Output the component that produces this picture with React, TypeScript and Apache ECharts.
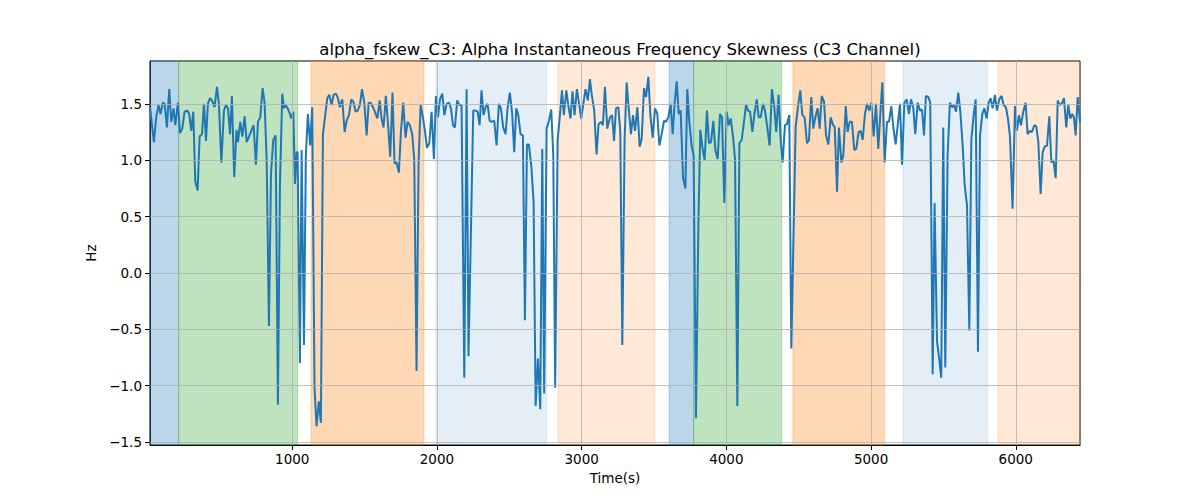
import React, { useEffect, useRef } from 'react';
import * as echarts from 'echarts';

// sample times (s) and skewness values (Hz)
const times = [
  17, 44, 60, 76, 90, 106, 118, 134, 150, 164, 180, 192, 210, 224, 240, 256, 275, 288, 302, 316,
  330, 346, 360, 376, 390, 404, 417, 431, 445, 463, 480, 493, 510, 528, 542, 556, 570, 583, 599, 615,
  625, 641, 655, 671, 685, 701, 717, 733, 749, 763, 779, 795, 809, 823, 839, 853, 869, 885, 901, 915,
  931, 943, 954, 968, 982, 993, 1007, 1019, 1030, 1037,
  1053, 1065, 1081, 1094, 1108, 1124, 1138, 1154, 1168, 1184, 1198, 1212, 1228, 1242, 1256, 1272, 1286, 1302, 1316, 1329,
  1346, 1362, 1376, 1392, 1408, 1422, 1438, 1452, 1468, 1482, 1498, 1514, 1528, 1541, 1558, 1571, 1588, 1604, 1617, 1631,
  1647, 1664, 1677, 1693, 1707, 1721, 1737, 1751, 1767, 1783, 1797, 1813, 1829, 1843, 1859, 1873, 1887, 1903, 1917, 1931,
  1947, 1963, 1979, 1993, 2007, 2021, 2037, 2051, 2067, 2083, 2097, 2111,
  2124, 2140, 2154, 2170, 2189, 2205, 2218, 2251, 2267, 2281, 2295, 2308, 2322, 2336, 2350, 2364, 2377, 2396, 2412, 2428,
  2442, 2458, 2474, 2488, 2504, 2520, 2534, 2548, 2562, 2578, 2594, 2608, 2622, 2635, 2652, 2668, 2682, 2698, 2714, 2728,
  2741, 2758, 2774, 2790, 2804, 2817, 2834, 2850, 2864, 2877, 2894, 2907, 2923, 2937, 2951, 2967, 2981, 2997, 3013, 3027,
  3043, 3057, 3071, 3087, 3103, 3117, 3133, 3147, 3161, 3177,
  3196, 3210, 3224, 3237, 3254, 3267, 3281, 3297, 3311, 3325, 3341, 3355, 3369, 3385, 3401, 3415, 3431, 3445, 3461, 3475,
  3491, 3507, 3523, 3537, 3553, 3569, 3583, 3599, 3615, 3629, 3643, 3657, 3671, 3684, 3701, 3717, 3730, 3744, 3760, 3774,
  3790, 3807, 3820, 3836, 3850, 3866, 3880, 3894, 3910, 3924, 3940, 3956, 3970, 3986, 4002, 4016, 4030, 4046, 4060, 4076,
  4090, 4106, 4120, 4136, 4150, 4164, 4180, 4194, 4210, 4224, 4237, 4253,
  4267, 4283, 4299, 4315, 4332, 4345, 4361, 4375, 4389, 4405, 4419, 4435, 4449, 4479, 4495, 4511, 4525, 4541, 4557, 4571,
  4587, 4601, 4615, 4631, 4645, 4659, 4675, 4689, 4705, 4721, 4735, 4749, 4765, 4778, 4795, 4808, 4825, 4838, 4852, 4868,
  4884, 4898, 4914, 4928, 4942, 4958, 4972, 4988, 5002, 5018, 5034, 5050, 5064, 5078, 5094, 5110, 5124, 5140, 5154, 5170,
  5184, 5200, 5214, 5230, 5246, 5262, 5276, 5292, 5306, 5322,
  5338, 5352, 5366, 5379, 5396, 5409, 5426, 5439, 5456, 5469, 5485, 5499, 5513, 5529, 5545, 5559, 5573, 5587, 5603, 5617,
  5633, 5647, 5663, 5679, 5693, 5709, 5723, 5739, 5753, 5769, 5783, 5799, 5813, 5826, 5840, 5856, 5870, 5886, 5902, 5916,
  5932, 5946, 5960, 5978, 5995, 6008, 6022, 6036, 6052, 6068, 6082, 6098, 6112, 6128, 6142, 6156, 6172, 6186, 6200, 6216,
  6232, 6246, 6260, 6276, 6290, 6303, 6317, 6333, 6349, 6363, 6377, 6391, 6402, 6414, 6428, 6444,
];

const values = [
  1.47, 1.16, 1.38, 1.49, 1.41, 1.51, 1.5, 1.29, 1.63, 1.34, 1.46, 1.31, 1.51, 1.24, 1.28, 1.43, 1.44, 1.41, 1.26, 1.43,
  0.81, 0.73, 1.21, 1.23, 1.5, 1.17, 1.5, 1.55, 1.53, 1.47, 1.65, 1.5, 0.98, 1.44, 1.49, 1.46, 1.23, 1.57, 0.85, 1.27,
  1.16, 1.34, 1.21, 1.39, 1.16, 1.21, 1.26, 1.31, 0.96, 1.34, 1.38, 1.64, 1.51, 1.01, -0.47, 0.88, 1.18, 1.22, -1.17, 0.78,
  1.59, 1.46, 1.49, 1.46, 1.42, 1.37, 1.43, 0.79, 1.07, 1.07,
  -0.8, 1.09, -0.64, 1.04, 1.41, 1.13, 1.47, -1.02, -1.36, -1.14, -1.33, 1.23, 1.4, 1.55, 1.58, 1.49, 1.58, 1.59, 1.55, 1.47,
  1.54, 1.25, 1.35, 1.4, 1.54, 1.52, 1.43, 1.44, 1.49, 1.63, 1.51, 1.22, 1.51, 1.51, 1.47, 1.43, 1.37, 1.53, 1.37, 1.29,
  1.57, 1.28, 1.03, 1.6, 0.97, 0.98, 0.89, 1.25, 1.51, 1.2, 1.34, 1.31, 1.23, 1.01, -0.87, 0.98, 1.49, 1.38, 1.26, 1.11,
  1.15, 1.43, 1.01, 1.57, 1.38, 1.54, 1.59, 1.4, 1.5, 1.51, 1.46, 1.31,
  1.29, 1.53, 1.49, 1.49, -0.93, 1.63, -0.74, 1.44, 1.44, 1.43, 1.31, 1.62, 1.4, 1.47, 1.5, 1.35, 1.34, 1.35, 1.13, 1.5,
  1.46, 1.29, 1.23, 1.46, 1.6, 1.41, 1.07, 1.46, 1.4, 1.23, 1.22, -0.42, 1.14, 1.14, 0.95, 0.63, -1.18, -0.76, -1.21, 1.1,
  -1.07, 1.28, 1.35, 1.45, 1.04, -1.02, 1.18, 1.4, 1.62, 1.4, 1.62, 1.49, 1.37, 1.61, 1.4, 1.63, 1.51, 1.37, 1.51, 1.63,
  1.53, 1.72, 1.57, 1.44, 1.05, 1.32, 1.34, 1.31, 1.65, 1.28,
  1.38, 1.4, 1.17, 1.46, 1.47, 1.25, -0.64, 1.19, 1.69, 1.46, 1.23, 1.4, 1.26, 1.47, 1.12, 1.19, 1.64, 1.56, 1.74, 1.4,
  1.2, 1.46, 1.41, 1.13, 1.23, 1.35, 1.34, 1.38, 1.5, 1.23, 1.51, 1.7, 1.41, 1.44, 0.84, 0.75, 1.63, 1.34, 1.13, 1.04,
  -1.29, 0.45, 1.27, 1.1, 1.0, 1.44, 1.15, 1.16, 1.35, 1.09, 1.01, 1.41, 1.38, 0.62, 1.43, 1.31, 1.37, 1.21, 1.01, -1.18,
  1.15, 1.18, 1.32, 1.49, 1.44, 1.43, 1.25, 1.41, 1.54, 1.38, 1.38, 1.5,
  1.44, 1.29, 1.13, 1.63, 1.46, 1.25, 1.58, 1.19, 0.98, 1.31, 1.32, 1.4, -0.67, 1.3, 1.47, 1.62, 1.4, 1.38, 1.15, 1.18,
  1.56, 1.28, 1.38, 1.46, 1.28, 1.57, 1.52, 1.22, 1.14, 1.38, 1.32, 1.29, 0.72, 1.29, 0.98, 1.04, 1.48, 1.25, 1.34, 1.34,
  1.09, 1.1, 1.25, 1.26, 1.18, 1.41, 1.5, 1.44, 1.51, 1.21, 1.5, 1.1, 1.41, 1.69, 0.98, 1.34, 1.34, 1.48, 1.29, 1.14,
  1.31, 1.5, 0.96, 1.51, 1.54, 1.41, 1.54, 1.46, 1.23, 1.51,
  1.44, 1.45, 1.22, 1.57, 1.56, 1.51, -0.9, 0.62, -0.61, -0.74, -0.93, 1.29, -0.84, 1.04, 1.51, 1.47, 1.49, 1.43, 1.6, 1.43,
  1.13, 0.78, 0.6, -0.51, 1.18, 1.4, 1.54, -0.7, 1.22, 1.41, 1.46, 1.37, 1.51, 1.55, 1.46, 1.58, 1.44, 1.54, 1.57, 1.49,
  1.47, 1.37, 1.21, 0.57, 1.48, 1.26, 1.4, 1.31, 1.43, 1.51, 1.23, 1.26, 1.25, 1.31, 1.3, 1.16, 0.7, 1.07, 1.12, 1.13,
  1.39, 0.98, 1.0, 0.84, 1.53, 1.49, 1.5, 1.55, 1.29, 1.49, 1.37, 1.41, 1.38, 1.22, 1.56, 1.34,
];

// shaded stages: start, end, colour
const bandStarts = [17, 215, 1130, 1993, 2836, 3604, 3774, 4460, 5221, 5877];
const bandEnds = [215, 1037, 1910, 2758, 3507, 3774, 4382, 5094, 5806, 6444];
const bandColors = [
  'rgba(31,119,180,0.3)',
  'rgba(44,160,44,0.3)',
  'rgba(255,127,14,0.3)',
  'rgba(31,119,180,0.12)',
  'rgba(255,127,14,0.17)',
  'rgba(31,119,180,0.3)',
  'rgba(44,160,44,0.3)',
  'rgba(255,127,14,0.3)',
  'rgba(31,119,180,0.12)',
  'rgba(255,127,14,0.17)',
];

const xTicks = [1000, 2000, 3000, 4000, 5000, 6000];
const yTicks = [-1.5, -1.0, -0.5, 0.0, 0.5, 1.0, 1.5];

const xMin = 17;
const xMax = 6444;
const yMin = -1.527;
const yMax = 1.88;

const FONT = '"DejaVu Sans", sans-serif';

const App = () => {
  const chartRef = useRef(null);

  useEffect(() => {
    document.body.style.margin = '0';
    if (!chartRef.current) return;
    const chart = echarts.init(chartRef.current, null, { renderer: 'svg' });

    const fmtY = (v: number) => v.toFixed(1).replace('-', '\u2212');
    const gridStyle = { color: '#b0b0b0', width: 0.8, type: 'solid' };

    const option = {
      animation: false,
      textStyle: { fontFamily: FONT },
      title: {
        text: 'alpha_fskew_C3: Alpha Instantaneous Frequency Skewness (C3 Channel)',
        left: 615,
        top: 36,
        textAlign: 'center',
        textStyle: { fontFamily: FONT, fontSize: 16.5, fontWeight: 'normal', color: '#000' },
      },
      grid: {
        left: 150,
        right: 120,
        top: 61,
        bottom: 55,
        show: true,
        borderColor: '#000',
        borderWidth: 1,
        backgroundColor: 'transparent',
      },
      xAxis: {
        type: 'value',
        min: xMin,
        max: xMax,
        name: 'Time(s)',
        nameLocation: 'middle',
        nameGap: 26,
        nameTextStyle: { fontFamily: FONT, fontSize: 13.5, color: '#000' },
        axisLine: { show: true, onZero: false, lineStyle: { color: '#000', width: 1 } },
        axisTick: { show: true, customValues: xTicks, length: 5, lineStyle: { color: '#000' } },
        axisLabel: {
          customValues: xTicks,
          formatter: (v: number) => String(v),
          fontFamily: FONT,
          fontSize: 13.5,
          color: '#000',
          margin: 7,
        },
        splitLine: { show: false },
      },
      yAxis: {
        type: 'value',
        min: yMin,
        max: yMax,
        name: 'Hz',
        nameLocation: 'middle',
        nameGap: 50,
        nameTextStyle: { fontFamily: FONT, fontSize: 13.5, color: '#000' },
        axisLine: { show: true, onZero: false, lineStyle: { color: '#000', width: 1 } },
        axisTick: { show: true, customValues: yTicks, length: 5, lineStyle: { color: '#000' } },
        axisLabel: {
          customValues: yTicks,
          formatter: fmtY,
          fontFamily: FONT,
          fontSize: 13.5,
          color: '#000',
          margin: 8,
        },
        splitLine: { show: false },
      },
      series: [
        {
          name: 'bands',
          type: 'line',
          data: [],
          silent: true,
          z: 1,
          markArea: {
            silent: true,
            data: bandStarts.map((s, i) => [
              {
                xAxis: s,
                itemStyle: { color: bandColors[i], borderColor: bandColors[i], borderWidth: 1 },
              },
              { xAxis: bandEnds[i] },
            ]),
          },
        },
        {
          name: 'grid',
          type: 'line',
          data: [],
          silent: true,
          z: 2,
          markLine: {
            silent: true,
            symbol: ['none', 'none'],
            label: { show: false },
            lineStyle: gridStyle,
            data: [
              ...xTicks.map((v) => ({ xAxis: v })),
              ...yTicks.map((v) => ({ yAxis: v })),
            ],
          },
        },
        {
          name: 'alpha_fskew_C3',
          type: 'line',
          z: 3,
          data: times.map((t, i) => [t, values[i]]),
          showSymbol: false,
          lineStyle: { color: '#1f77b4', width: 2 },
          itemStyle: { color: '#1f77b4' },
        },
      ],
    };

    chart.setOption(option);

    return () => {
      chart.dispose();
    };
  }, []);

  return <div ref={chartRef} style={{ width: '1200px', height: '500px' }} />;
};

export default App;
